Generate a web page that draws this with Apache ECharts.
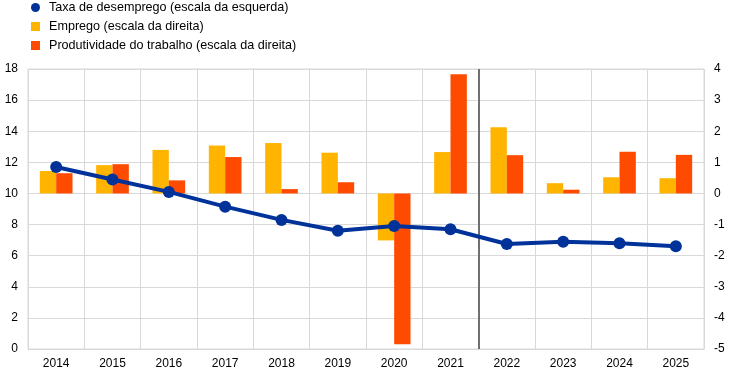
<!DOCTYPE html>
<html><head><meta charset="utf-8">
<script src="https://cdn.jsdelivr.net/npm/echarts@6/dist/echarts.min.js"></script>
<style>html,body{margin:0;padding:0;background:#fff}#c{width:743px;height:379px}</style>
</head><body><div id="c"></div>
<script>
var years = ['2014','2015','2016','2017','2018','2019','2020','2021','2022','2023','2024','2025'];
var unemployment = [11.7, 10.9, 10.1, 9.15, 8.3, 7.6, 7.9, 7.7, 6.75, 6.9, 6.8, 6.6];
var employment = [0.72, 0.91, 1.40, 1.54, 1.62, 1.31, -1.51, 1.33, 2.13, 0.33, 0.52, 0.49];
var productivity = [0.65, 0.94, 0.42, 1.17, 0.14, 0.36, -4.85, 3.83, 1.23, 0.12, 1.34, 1.24];
var projectionStart = 8; // boundary between 2021 and 2022 (category index)
var names = ['Taxa de desemprego (escala da esquerda)', 'Emprego (escala da direita)', 'Produtividade do trabalho (escala da direita)'];

var chart = echarts.init(document.getElementById('c'), null, {renderer: 'canvas'});
var font = 'Liberation Sans, Arial, sans-serif';
chart.setOption({
  animation: false,
  textStyle: {fontFamily: font},
  legend: {
    orient: 'vertical', left: 31, top: 1, padding: 0, itemWidth: 9, itemHeight: 9, itemGap: 6,
    textStyle: {fontSize: 12.6, lineHeight: 12, color: '#000', fontFamily: font, padding: [0, 0, 0, 4]},
    data: [{name: names[0], icon: 'circle'}, {name: names[1], icon: 'rect'}, {name: names[2], icon: 'rect'}]
  },
  grid: {left: 28, right: 39, top: 69, bottom: 30, show: true, borderColor: '#d9d9d9', borderWidth: 1},
  xAxis: [{
    type: 'category', data: years, boundaryGap: true,
    axisLine: {show: true, lineStyle: {color: '#d9d9d9'}},
    axisTick: {show: false},
    axisLabel: {color: '#000', fontSize: 12, margin: 9, fontFamily: font},
    splitLine: {show: true, lineStyle: {color: '#d9d9d9', width: 1}}
  }, {
    type: 'value', min: 0, max: 12, show: false
  }],
  yAxis: [{
    type: 'value', min: 0, max: 18, interval: 2, position: 'left',
    axisLine: {show: false}, axisTick: {show: false},
    axisLabel: {color: '#000', fontSize: 12, margin: 10, fontFamily: font},
    splitLine: {show: true, lineStyle: {color: '#d9d9d9', width: 1}}
  }, {
    type: 'value', min: -5, max: 4, interval: 1, position: 'right',
    axisLine: {show: false}, axisTick: {show: false},
    axisLabel: {color: '#000', fontSize: 12, margin: 10, fontFamily: font},
    splitLine: {show: false}
  }],
  series: [{
    name: names[1], type: 'bar', yAxisIndex: 1, data: employment,
    itemStyle: {color: '#FFB400'}, barGap: '0%', barCategoryGap: '42%'
  }, {
    name: names[2], type: 'bar', yAxisIndex: 1, data: productivity,
    itemStyle: {color: '#FF4B00'}, barGap: '0%', barCategoryGap: '42%'
  }, {
    name: names[0], type: 'line', yAxisIndex: 0, data: unemployment,
    lineStyle: {color: '#003299', width: 4}, itemStyle: {color: '#003299'},
    symbol: 'circle', symbolSize: 12, z: 5
  }, {
    name: 'divider', type: 'line', xAxisIndex: 1, yAxisIndex: 0, data: [],
    markLine: {silent: true, symbol: 'none', label: {show: false},
      lineStyle: {color: '#707070', width: 2, type: 'solid'},
      data: [{xAxis: projectionStart}]}
  }]
});
</script></body></html>
